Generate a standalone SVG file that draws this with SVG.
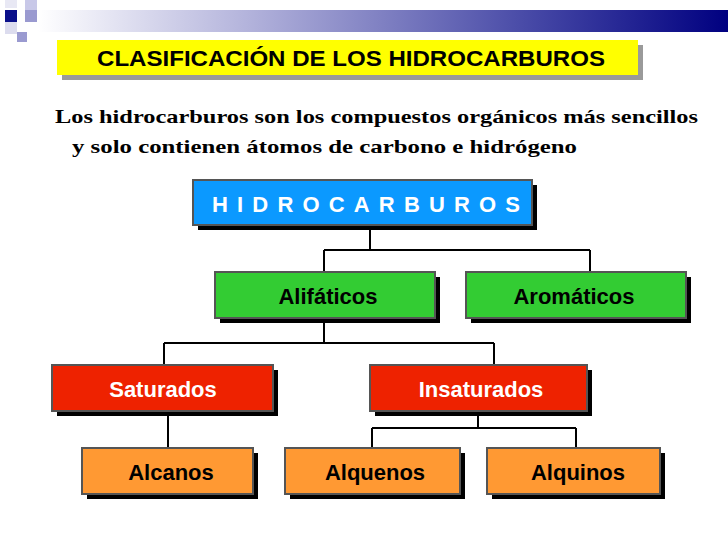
<svg xmlns="http://www.w3.org/2000/svg" width="728" height="546" viewBox="0 0 728 546">
<defs>
<linearGradient id="bar" x1="0" x2="1" y1="0" y2="0"><stop offset="0" stop-color="#ffffff"/><stop offset="0.3" stop-color="#b4b4dc"/><stop offset="0.7" stop-color="#4a4ca8"/><stop offset="1" stop-color="#000080"/></linearGradient>
<style>
.sh{fill:#000}
.box{stroke:#555;stroke-width:2}
.t{font-family:"Liberation Sans",Arial,sans-serif;font-weight:bold;font-size:22px;text-anchor:middle}
.c{fill:none;stroke:#000;stroke-width:2}
</style>
</defs>
<rect width="728" height="546" fill="#fff"/>
<g id="decor">
<rect x="38" y="10" width="690" height="22" fill="url(#bar)"/>
<rect x="5" y="10" width="12" height="12" fill="#0a0f8a"/>
<rect x="25" y="0" width="12" height="10" fill="#c8c8e8"/>
<rect x="25" y="10" width="12" height="12" fill="#9a9ad0"/>
<rect x="5" y="22" width="12" height="12" fill="#dcdcee"/>
<rect x="17" y="32" width="10" height="10" fill="#9a9ad0"/>
<rect x="5" y="0" width="12" height="8" fill="#e8e8f4"/>
</g>
<g id="title">
<rect x="62" y="45" width="581" height="35" fill="#9a9a9a"/>
<rect x="57" y="40" width="581" height="35" fill="#ffff00"/>
<text x="97" y="66" class="t" font-size="20" text-anchor="start" textLength="508" lengthAdjust="spacingAndGlyphs" style="text-anchor:start">CLASIFICACIÓN DE LOS HIDROCARBUROS</text>
</g>
<g id="intro" font-family="'Liberation Serif',serif" font-weight="bold" font-size="19">
<text x="55" y="123" textLength="643" lengthAdjust="spacingAndGlyphs">Los hidrocarburos son los compuestos orgánicos más sencillos</text>
<text x="72" y="153" textLength="505" lengthAdjust="spacingAndGlyphs">y solo contienen átomos de carbono e hidrógeno</text>
</g>
<g id="connectors">
<path class="c" d="M370 225V250M324 250H590M324 250V272M590 250V272"/>
<path class="c" d="M324 318V343M164 343H494M164 343V365M494 343V365"/>
<path class="c" d="M168 411V448"/>
<path class="c" d="M478 411V428M372 428H576M372 428V448M576 428V448"/>
</g>
<g id="n-hidro"><rect class="sh" x="198" y="185" width="339" height="45"/><rect class="box" x="193" y="180" width="339" height="45" fill="#0b99ff"/><text x="212" y="212" class="t" fill="#fff" style="text-anchor:start" textLength="308">HIDROCARBUROS</text></g>
<g id="n-alif"><rect class="sh" x="220" y="277" width="220" height="46"/><rect class="box" x="215" y="272" width="220" height="46" fill="#33cc33"/><text x="328" y="304" class="t">Alifáticos</text></g>
<g id="n-arom"><rect class="sh" x="471" y="277" width="220" height="46"/><rect class="box" x="466" y="272" width="220" height="46" fill="#33cc33"/><text x="574" y="304" class="t">Aromáticos</text></g>
<g id="n-sat"><rect class="sh" x="57" y="370" width="221" height="46"/><rect class="box" x="52" y="365" width="221" height="46" fill="#ee2200"/><text x="163" y="397" class="t" fill="#fff">Saturados</text></g>
<g id="n-insat"><rect class="sh" x="375" y="370" width="217" height="46"/><rect class="box" x="370" y="365" width="217" height="46" fill="#ee2200"/><text x="481" y="397" class="t" fill="#fff">Insaturados</text></g>
<g id="n-alcanos"><rect class="sh" x="87" y="453" width="171" height="46"/><rect class="box" x="82" y="448" width="171" height="46" fill="#ff9933"/><text x="171" y="480" class="t">Alcanos</text></g>
<g id="n-alquenos"><rect class="sh" x="290" y="453" width="175" height="46"/><rect class="box" x="285" y="448" width="175" height="46" fill="#ff9933"/><text x="375" y="480" class="t">Alquenos</text></g>
<g id="n-alquinos"><rect class="sh" x="492" y="453" width="173" height="46"/><rect class="box" x="487" y="448" width="173" height="46" fill="#ff9933"/><text x="578" y="480" class="t">Alquinos</text></g>
</svg>
